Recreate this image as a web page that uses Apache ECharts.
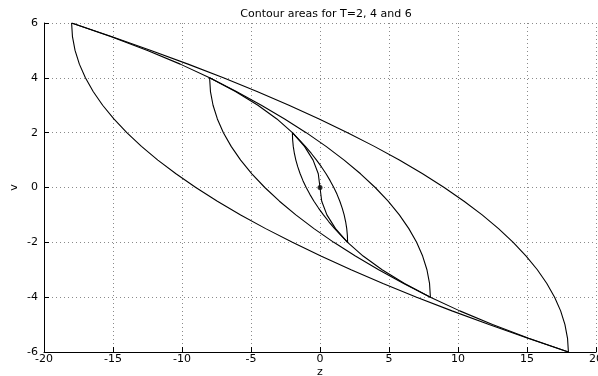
<!DOCTYPE html>
<html>
<head>
<meta charset="utf-8">
<script src="https://cdn.jsdelivr.net/npm/echarts@6/dist/echarts.min.js"></script>
<style>
html,body{margin:0;padding:0;background:#fff;}
#chart{width:598px;height:376px;}
</style>
</head>
<body>
<div id="chart"></div>
<script>
// velocity samples (v axis)
var v6 = [6,5.5,5,4.5,4,3.5,3,2.5,2,1.5,1,0.5,0,-0.5,-1,-1.5,-2,-2.5,-3,-3.5,-4,-4.5,-5,-5.5,-6];
var v4 = [4,3.5,3,2.5,2,1.5,1,0.5,0,-0.5,-1,-1.5,-2,-2.5,-3,-3.5,-4];
var v2 = [2,1.75,1.5,1.25,1,0.75,0.5,0.25,0,-0.25,-0.5,-0.75,-1,-1.25,-1.5,-1.75,-2];

// position values (z axis) read for each boundary curve
var zUpper6 = [-18,-15.0625,-12.25,-9.5625,-7,-4.5625,-2.25,-0.0625,2,3.9375,5.75,7.4375,9,10.4375,11.75,12.9375,14,14.9375,15.75,16.4375,17,17.4375,17.75,17.9375,18];
var zLower6 = [-18,-17.9375,-17.75,-17.4375,-17,-16.4375,-15.75,-14.9375,-14,-12.9375,-11.75,-10.4375,-9,-7.4375,-5.75,-3.9375,-2,0.0625,2.25,4.5625,7,9.5625,12.25,15.0625,18];
var zUpper4 = [-8,-6.0625,-4.25,-2.5625,-1,0.4375,1.75,2.9375,4,4.9375,5.75,6.4375,7,7.4375,7.75,7.9375,8];
var zLower4 = [-8,-7.9375,-7.75,-7.4375,-7,-6.4375,-5.75,-4.9375,-4,-2.9375,-1.75,-0.4375,1,2.5625,4.25,6.0625,8];
var zUpper2 = [-2,-1.515625,-1.0625,-0.640625,-0.25,0.109375,0.4375,0.734375,1,1.234375,1.4375,1.609375,1.75,1.859375,1.9375,1.984375,2];
var zLower2 = [-2,-1.984375,-1.9375,-1.859375,-1.75,-1.609375,-1.4375,-1.234375,-1,-0.734375,-0.4375,-0.109375,0.25,0.640625,1.0625,1.515625,2];
var zSwitch = [-18,-15.125,-12.5,-10.125,-8,-6.125,-4.5,-3.125,-2,-1.125,-0.5,-0.125,0,0.125,0.5,1.125,2,3.125,4.5,6.125,8,10.125,12.5,15.125,18];
var origin = [[0,0]];

var xTicks = [-20,-15,-10,-5,0,5,10,15,20];
var yTicks = [-6,-4,-2,0,2,4,6];

function pairs(zs, vs){ return zs.map(function(z,i){ return [z, vs[i]]; }); }

var curves = [
  pairs(zUpper6, v6), pairs(zLower6, v6),
  pairs(zUpper4, v4), pairs(zLower4, v4),
  pairs(zUpper2, v2), pairs(zLower2, v2),
  pairs(zSwitch, v6)
];

var font = '"DejaVu Sans", Verdana, sans-serif';
var series = curves.map(function(d){
  return {type:'line', data:d, showSymbol:false, symbol:'none', smooth:false,
    lineStyle:{color:'#000', width:1.1}, silent:true, z:3};
});
series.push({type:'scatter', data:origin, symbol:'circle', symbolSize:5,
  itemStyle:{color:'#000'}, z:4});

var chart = echarts.init(document.getElementById('chart'), null, {renderer:'canvas'});
chart.setOption({
  animation:false,
  backgroundColor:'#fff',
  title:{text:'Contour areas for T=2, 4 and 6', left:321, top:4, textAlign:'center',
    textStyle:{fontFamily:font, fontSize:11, fontWeight:'normal', color:'#000'}},
  grid:{left:44, right:2, top:23, bottom:24, containLabel:false, outerBoundsMode:'none'},
  xAxis:{type:'value', min:xTicks[0], max:xTicks[xTicks.length-1], interval:5,
    name:'z', nameLocation:'middle', nameGap:15, nameMoveOverlap:false,
    nameTextStyle:{fontFamily:font, fontSize:11, color:'#000'},
    axisLine:{show:true, onZero:false, lineStyle:{color:'#000', width:1}},
    axisTick:{show:true, inside:true, length:5, lineStyle:{color:'#000'}},
    axisLabel:{fontFamily:font, fontSize:11, color:'#000', margin:2, hideOverlap:false},
    splitLine:{show:true, lineStyle:{color:'#8a8a8a', width:1, type:[1,3]}}},
  yAxis:{type:'value', min:yTicks[0], max:yTicks[yTicks.length-1], interval:2,
    name:'v', nameLocation:'middle', nameGap:24, nameRotate:90, nameMoveOverlap:false,
    nameTextStyle:{fontFamily:font, fontSize:11, color:'#000'},
    axisLine:{show:true, onZero:false, lineStyle:{color:'#000', width:1}},
    axisTick:{show:true, inside:true, length:5, lineStyle:{color:'#000'}},
    axisLabel:{fontFamily:font, fontSize:11, color:'#000', margin:6, hideOverlap:false},
    splitLine:{show:true, lineStyle:{color:'#8a8a8a', width:1, type:[1,3]}}},
  series:series
});
</script>
</body>
</html>
